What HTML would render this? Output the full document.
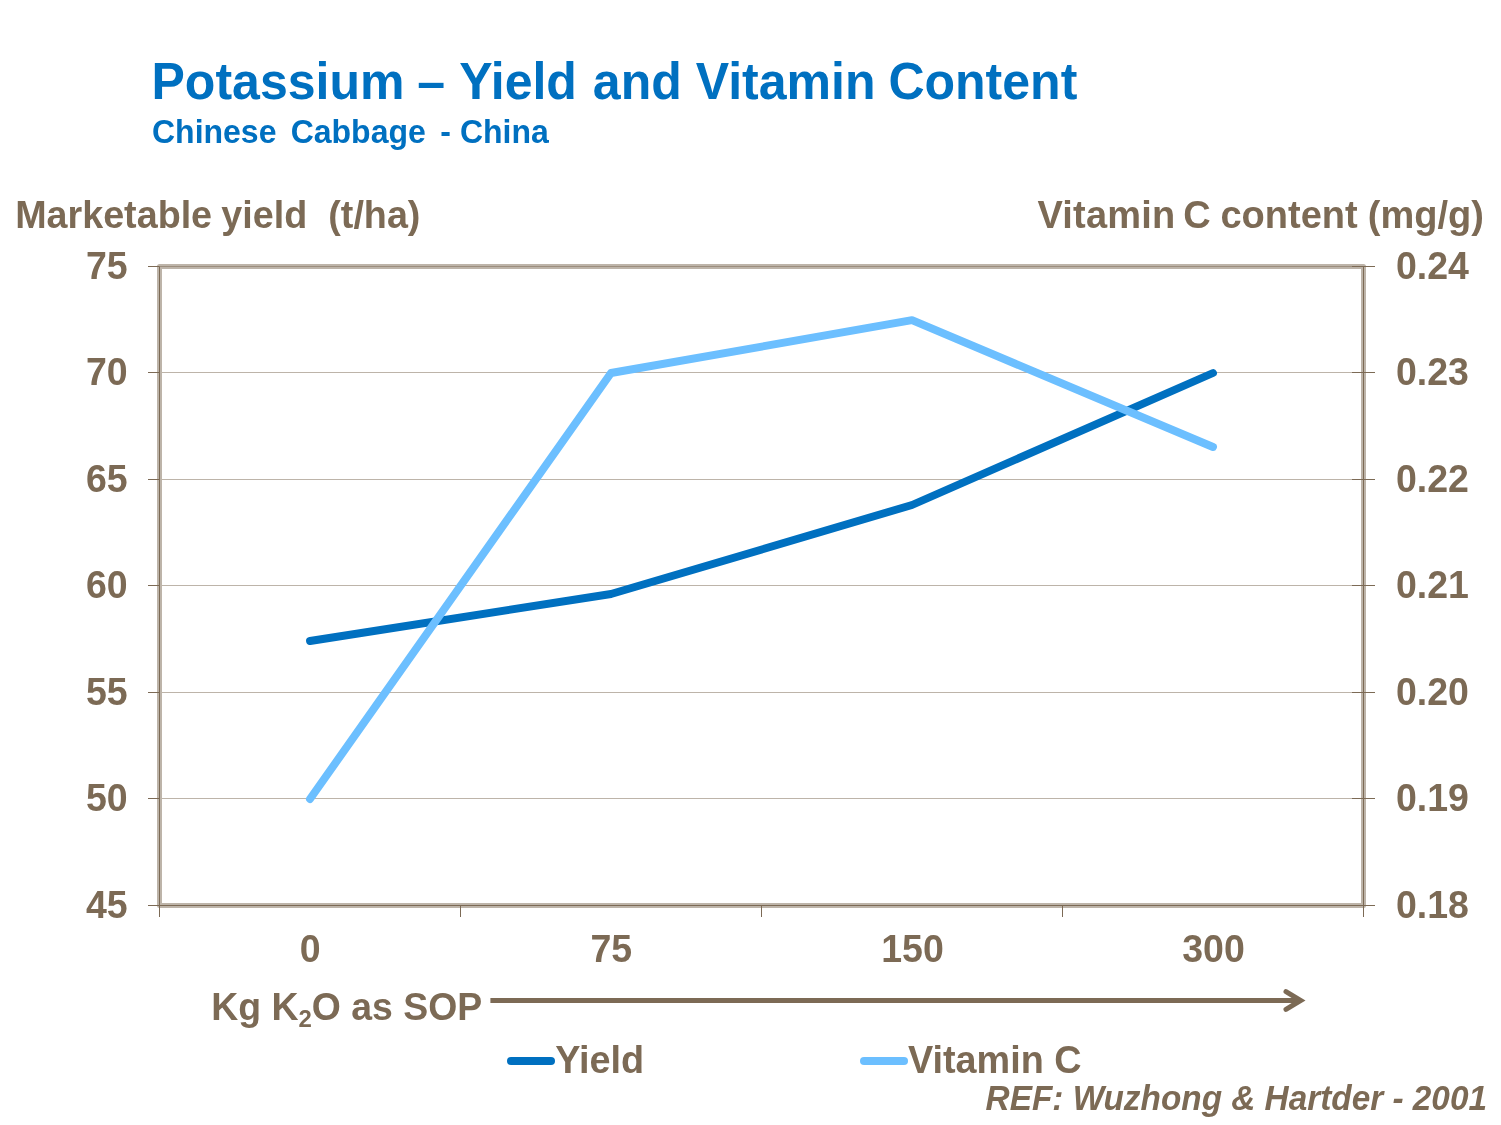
<!DOCTYPE html>
<html><head><meta charset="utf-8"><title>Potassium – Yield and Vitamin Content</title>
<style>
html,body{margin:0;padding:0;background:#fff;}
body{width:1501px;height:1125px;overflow:hidden;}
svg{display:block;}
text{font-family:"Liberation Sans",Arial,Helvetica,sans-serif;font-weight:bold;}
.b{fill:#7c6a55;}
.t{fill:#0070c0;}
</style></head><body>
<svg width="1501" height="1125" viewBox="0 0 1501 1125">
<rect width="1501" height="1125" fill="#fff"/>
<text transform="translate(151.5,99.3) scale(1,1.02)" font-size="50.03" class="t">Potassium <tspan dx="-1">–</tspan> <tspan dx="0.2">Yield</tspan> <tspan dx="2">and</tspan> <tspan dx="0.1">Vitamin</tspan> <tspan dx="-1">Content</tspan></text>
<text transform="translate(0,142.8) scale(1,1.02)" font-size="32" class="t"><tspan x="152">Chinese</tspan> <tspan x="290.7">Cabbage</tspan> <tspan x="440.2">-</tspan> <tspan x="459.9">China</tspan></text>
<text transform="translate(0,228.2) scale(1,1.02)" font-size="37.7" class="b"><tspan x="15.2">Marketable</tspan> <tspan x="221.3">yield</tspan> <tspan x="328.3">(t/ha)</tspan></text>
<text transform="translate(0,228.2) scale(1,1.02)" font-size="38" class="b"><tspan x="1037.5" letter-spacing="0.2">Vitamin</tspan> <tspan x="1183.3">C</tspan> <tspan x="1220.5">content</tspan> <tspan x="1367.8">(mg/g)</tspan></text>
<rect x="159.5" y="266.5" width="1204" height="639" fill="none" stroke="#bdb4a9" stroke-width="5" stroke-linejoin="round"/>
<g stroke="#bdb4a9" stroke-width="1">
<line x1="159.5" x2="1363.5" y1="266.5" y2="266.5" stroke="#9c8e7e"/>
<line x1="159.5" x2="1363.5" y1="372.5" y2="372.5"/>
<line x1="159.5" x2="1363.5" y1="479.5" y2="479.5"/>
<line x1="159.5" x2="1363.5" y1="585.5" y2="585.5"/>
<line x1="159.5" x2="1363.5" y1="692.5" y2="692.5"/>
<line x1="159.5" x2="1363.5" y1="798.5" y2="798.5"/>
</g>
<g stroke="#7c6a55" stroke-width="1">
<line x1="159.5" x2="159.5" y1="266.5" y2="917"/>
<line x1="1363.5" x2="1363.5" y1="266.5" y2="917"/>
<line x1="148" x2="1375" y1="905.5" y2="905.5"/>
<line x1="460.5" x2="460.5" y1="905.5" y2="917"/>
<line x1="761.5" x2="761.5" y1="905.5" y2="917"/>
<line x1="1062.5" x2="1062.5" y1="905.5" y2="917"/>
<line x1="148" x2="159.5" y1="266.5" y2="266.5"/>
<line x1="1352" x2="1375" y1="266.5" y2="266.5"/>
<line x1="148" x2="159.5" y1="372.5" y2="372.5"/>
<line x1="1352" x2="1375" y1="372.5" y2="372.5"/>
<line x1="148" x2="159.5" y1="479.5" y2="479.5"/>
<line x1="1352" x2="1375" y1="479.5" y2="479.5"/>
<line x1="148" x2="159.5" y1="585.5" y2="585.5"/>
<line x1="1352" x2="1375" y1="585.5" y2="585.5"/>
<line x1="148" x2="159.5" y1="692.5" y2="692.5"/>
<line x1="1352" x2="1375" y1="692.5" y2="692.5"/>
<line x1="148" x2="159.5" y1="798.5" y2="798.5"/>
<line x1="1352" x2="1375" y1="798.5" y2="798.5"/>
</g>
<polyline points="310,641 611,594 912,505 1213,373" fill="none" stroke="#0070c0" stroke-width="7.9" stroke-linecap="round" stroke-linejoin="round"/>
<polyline points="310,799 611,373 912,320.2 1213,447" fill="none" stroke="#6cbfff" stroke-width="7.9" stroke-linecap="round" stroke-linejoin="round"/>
<text transform="translate(127.6,278.8) scale(1,1.04)" font-size="37.5" class="b" text-anchor="end">75</text>
<text transform="translate(1396,278.8) scale(1,1.04)" font-size="37.5" class="b">0.24</text>
<text transform="translate(127.6,384.8) scale(1,1.04)" font-size="37.5" class="b" text-anchor="end">70</text>
<text transform="translate(1396,384.8) scale(1,1.04)" font-size="37.5" class="b">0.23</text>
<text transform="translate(127.6,491.8) scale(1,1.04)" font-size="37.5" class="b" text-anchor="end">65</text>
<text transform="translate(1396,491.8) scale(1,1.04)" font-size="37.5" class="b">0.22</text>
<text transform="translate(127.6,597.8) scale(1,1.04)" font-size="37.5" class="b" text-anchor="end">60</text>
<text transform="translate(1396,597.8) scale(1,1.04)" font-size="37.5" class="b">0.21</text>
<text transform="translate(127.6,704.8) scale(1,1.04)" font-size="37.5" class="b" text-anchor="end">55</text>
<text transform="translate(1396,704.8) scale(1,1.04)" font-size="37.5" class="b">0.20</text>
<text transform="translate(127.6,810.8) scale(1,1.04)" font-size="37.5" class="b" text-anchor="end">50</text>
<text transform="translate(1396,810.8) scale(1,1.04)" font-size="37.5" class="b">0.19</text>
<text transform="translate(127.6,917.8) scale(1,1.04)" font-size="37.5" class="b" text-anchor="end">45</text>
<text transform="translate(1396,917.8) scale(1,1.04)" font-size="37.5" class="b">0.18</text>
<text transform="translate(310.3,961.8) scale(1,1.04)" font-size="37.5" class="b" text-anchor="middle">0</text>
<text transform="translate(611.3,961.8) scale(1,1.04)" font-size="37.5" class="b" text-anchor="middle">75</text>
<text transform="translate(912.5,961.8) scale(1,1.04)" font-size="37.5" class="b" text-anchor="middle">150</text>
<text transform="translate(1213.5,961.8) scale(1,1.04)" font-size="37.5" class="b" text-anchor="middle">300</text>
<text transform="translate(211.2,1019.5) scale(1,1.02)" font-size="37.4" class="b">Kg K<tspan font-size="24" dy="7.4">2</tspan><tspan dy="-7.4">O as SOP</tspan></text>
<g stroke="#7c6a55" stroke-width="5" fill="none">
<line x1="490.4" x2="1299" y1="1000.5" y2="1000.5"/>
<polyline points="1286,991.6 1300.7,1000.5 1286,1009.4" stroke-linecap="round" stroke-linejoin="miter" stroke-miterlimit="10"/>
</g>
<line x1="511" x2="551" y1="1061" y2="1061" stroke="#0070c0" stroke-width="8" stroke-linecap="round"/>
<text transform="translate(555.2,1073) scale(1,1.02)" font-size="37.8" class="b">Yield</text>
<line x1="864" x2="904" y1="1061" y2="1061" stroke="#6cbfff" stroke-width="8" stroke-linecap="round"/>
<text transform="translate(908,1073) scale(1,1.02)" font-size="37.8" class="b">Vitamin C</text>
<text transform="translate(1487,1109.8) scale(1,1.04)" font-size="33.35" class="b" text-anchor="end" font-style="italic">REF: Wuzhong &amp; Hartder - 2001</text>
</svg>
</body></html>
